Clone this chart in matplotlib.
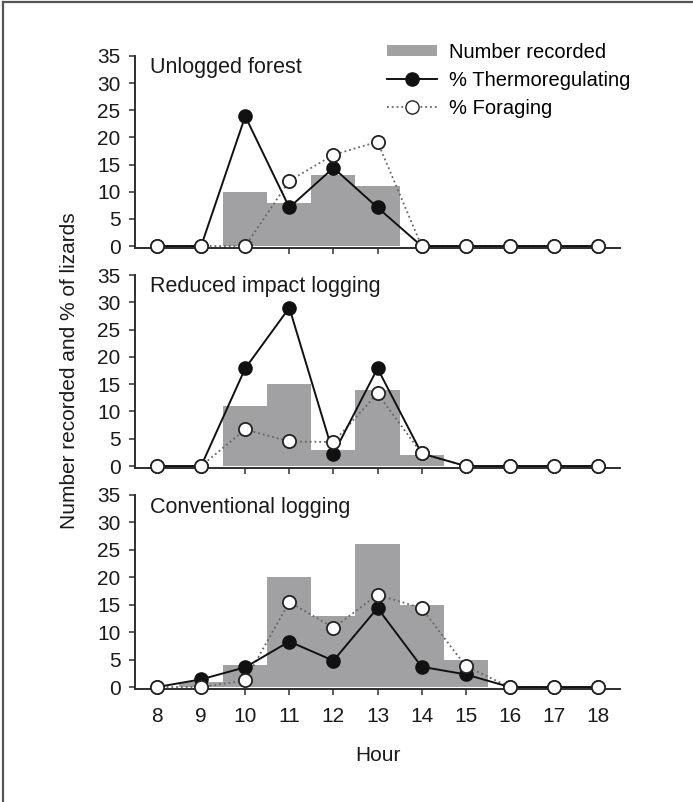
import numpy as np
import matplotlib.pyplot as plt
from matplotlib.lines import Line2D
from matplotlib.patches import Patch

plt.rcParams['font.family'] = ['Liberation Sans', 'DejaVu Sans']

hours = [8, 9, 10, 11, 12, 13, 14, 15, 16, 17, 18]
panel_titles = ['Unlogged forest', 'Reduced impact logging', 'Conventional logging']

# number of lizards recorded per hour
counts_unlogged = [0, 0, 10, 8, 13, 11, 0, 0, 0, 0, 0]
counts_ril = [0, 0, 11, 15, 3, 14, 2, 0, 0, 0, 0]
counts_conv = [0, 1, 4, 20, 13, 26, 15, 5, 0, 0, 0]

# % thermoregulating
thermo_unlogged = [0, 0, 23.9, 7.1, 14.4, 7.1, 0, 0, 0, 0, 0]
thermo_ril = [0, 0, 17.9, 29.0, 2.2, 17.9, 2.3, 0, 0, 0, 0]
thermo_conv = [0, 1.4, 3.6, 8.3, 4.8, 14.4, 3.7, 2.3, 0, 0, 0]

# % foraging
forage_unlogged = [0, 0, 0, 12.0, 16.8, 19.2, 0, 0, 0, 0, 0]
forage_ril = [0, 0, 6.7, 4.5, 4.4, 13.3, 2.3, 0, 0, 0, 0]
forage_conv = [0, 0, 1.2, 15.5, 10.8, 16.8, 14.4, 3.8, 0, 0, 0]

counts = [counts_unlogged, counts_ril, counts_conv]
thermo = [thermo_unlogged, thermo_ril, thermo_conv]
forage = [forage_unlogged, forage_ril, forage_conv]

bar_col = '#a1a1a3'
ax_col = '#2e2e2e'
fs = 15

fig = plt.figure(figsize=(6.93, 8.02), dpi=100)

# panel boxes [left, bottom, width, height] in figure fractions
boxes = [
    [0.1948, 0.6905, 0.6999, 0.2397],
    [0.1948, 0.4162, 0.6999, 0.2409],
    [0.1948, 0.1406, 0.6999, 0.2422],
]

axes = []
for i in range(3):
    ax = fig.add_axes(boxes[i])
    ax.bar(hours, counts[i], width=1.0, color=bar_col, linewidth=0, zorder=1)
    ax.plot(hours, forage[i], ls=':', color='#666666', lw=1.3, zorder=2, clip_on=False)
    ax.plot(hours, thermo[i], ls='-', color='#111111', lw=1.4, zorder=3, clip_on=False)
    ax.plot(hours, thermo[i], ls='none', marker='o', ms=9.5, mfc='#111111',
            mec='#111111', zorder=4, clip_on=False)
    ax.plot(hours, forage[i], ls='none', marker='o', ms=9.5, mfc='white',
            mec='#222222', mew=1.3, zorder=5, clip_on=False)

    ax.set_xlim(7.5, 18.5)
    ax.set_ylim(-0.4, 35)
    ax.set_yticks(range(0, 36, 5))
    ax.set_xticks(hours)
    for s in ['top', 'right']:
        ax.spines[s].set_visible(False)
    for s in ['left', 'bottom']:
        ax.spines[s].set_color(ax_col)
        ax.spines[s].set_linewidth(1.4)
    ax.tick_params(direction='out', length=4.5, width=1.1, color=ax_col,
                   labelsize=fs, labelcolor='#1a1a1a')
    ax.tick_params(axis='y', pad=6)
    ax.tick_params(axis='x', pad=8)
    if i < 2:
        ax.tick_params(axis='x', labelbottom=False)
    ax.text(7.85, 31.8, panel_titles[i], fontsize=15.5, color='#1a1a1a',
            va='baseline', ha='left')
    axes.append(ax)

handles = [
    Patch(facecolor=bar_col, edgecolor='none'),
    Line2D([], [], color='#111111', lw=1.4, marker='o', ms=9.5, mfc='#111111', mec='#111111'),
    Line2D([], [], color='#666666', lw=1.3, ls=':', marker='o', ms=9.5, mfc='white', mec='#222222'),
]
labels = ['Number recorded', '% Thermoregulating', '% Foraging']
fig.legend(handles, labels, loc='upper left', bbox_to_anchor=(0.559, 0.947),
           frameon=False, fontsize=14.5, handlelength=2.45, handleheight=0.5,
           handletextpad=0.6, labelspacing=0.45, borderpad=0, borderaxespad=0)

fig.text(0.101, 0.5374, 'Number recorded and % of lizards', rotation=90,
         ha='center', va='center', fontsize=fs, color='#1a1a1a')
fig.text(0.545, 0.0585, 'Hour', ha='center', va='center', fontsize=fs, color='#1a1a1a')

# frame lines at top and left (figure is cropped on the other sides)
fig.add_artist(Line2D([0.0045, 1.0], [0.9975, 0.9975], color='#555555', lw=1.6,
                      transform=fig.transFigure))
fig.add_artist(Line2D([0.0045, 0.0045], [0.0, 0.9975], color='#555555', lw=1.6,
                      transform=fig.transFigure))

fig.savefig('out.png', dpi=100)
